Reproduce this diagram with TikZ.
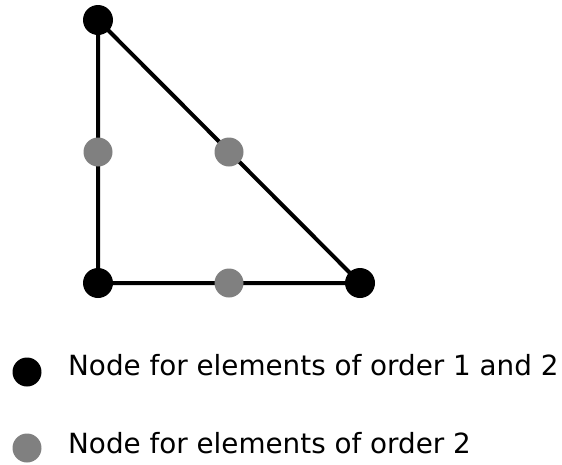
\documentclass[tikz,border=0pt]{standalone}
\usepackage{fontspec}
\setmainfont{DejaVu Sans}
\begin{document}
\begin{tikzpicture}[x=1pt,y=-1pt,
  edge/.style={line width=4pt},
  blackdot/.style={circle,fill=black,minimum size=30pt,inner sep=0pt},
  graydot/.style={circle,fill=gray,minimum size=29pt,inner sep=0pt},
  legtext/.style={anchor=base west,inner sep=0pt,font=\fontsize{27.8pt}{33pt}\selectfont}]
\useasboundingbox (0,0) rectangle (562,464);
\coordinate (A) at (98,20);
\coordinate (B) at (98,283);
\coordinate (C) at (360,283);
\draw[edge] (A) -- (B) -- (C) -- cycle;
\node[blackdot] (nA) at (A) {};
\node[blackdot] (nB) at (B) {};
\node[blackdot] (nC) at (C) {};
\node[graydot] (mAB) at (98,152) {};
\node[graydot] (mAC) at (229,152) {};
\node[graydot] (mBC) at (229,283) {};
\node[blackdot,minimum size=29pt] (l1) at (27,372) {};
\node[graydot] (l2) at (27,448) {};
\node[legtext] (t1) at (68,375) {Node for elements of order 1 and 2};
\node[legtext] (t2) at (68,453) {Node for elements of order 2};
\end{tikzpicture}
\end{document}
